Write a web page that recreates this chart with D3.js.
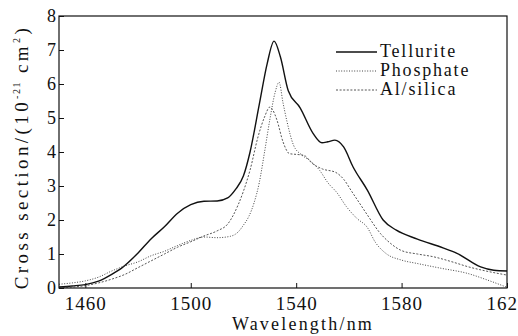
<html>
<head>
  <meta charset="utf-8">
  <title>Cross section</title>
  <style>
    body { margin: 0; background: #fff; }
    svg text { font-family: "Times New Roman", Tinos, "Liberation Serif", "Nimbus Roman", "DejaVu Serif", serif; fill: #111; }
  </style>
  <script src="https://d3js.org/d3.v7.min.js"></script>
</head>
<body>
  <div id="chart"></div>
  <script>
    // Data (wavelength nm, cross section 1e-21 cm^2)
    const telluriteWl = [1450, 1455, 1460, 1465, 1470, 1474, 1480, 1485, 1490, 1495, 1500, 1505, 1510, 1514, 1517, 1520, 1522.5, 1526, 1529, 1531.6, 1534, 1537, 1541.5, 1546.4, 1549.8, 1552, 1554.7, 1558, 1561.6, 1567, 1573, 1578, 1586, 1595.7, 1601, 1610, 1615, 1620];
    const telluriteCs = [0.03, 0.06, 0.1, 0.2, 0.4, 0.6, 1.03, 1.45, 1.8, 2.2, 2.45, 2.55, 2.56, 2.65, 2.9, 3.3, 4.0, 5.4, 6.6, 7.26, 6.8, 5.8, 5.3, 4.55, 4.27, 4.3, 4.35, 4.15, 3.56, 2.88, 2.0, 1.7, 1.44, 1.18, 1.02, 0.62, 0.52, 0.5];

    const phosphateWl = [1450, 1455, 1460, 1465, 1470, 1475, 1480, 1485, 1490, 1495, 1500, 1505, 1510, 1515, 1518, 1520, 1522, 1524, 1526, 1528, 1530, 1532, 1533.5, 1535, 1536.5, 1539, 1542, 1545, 1549, 1552, 1555.5, 1559, 1563, 1567, 1570, 1574, 1580, 1586, 1595, 1605, 1612, 1620];
    const phosphateCs = [0.11, 0.15, 0.21, 0.32, 0.5, 0.65, 0.77, 0.95, 1.08, 1.25, 1.4, 1.5, 1.48, 1.52, 1.65, 1.85, 2.1, 2.5, 3.1, 4.0, 4.95, 5.75, 6.05, 5.45, 4.9, 4.2, 3.92, 3.76, 3.45, 3.1, 2.8, 2.4, 2.05, 1.78, 1.35, 1.02, 0.82, 0.72, 0.58, 0.43, 0.25, 0.02];

    const silicaWl = [1450, 1455, 1460, 1465, 1470, 1475, 1480, 1485, 1490, 1495, 1500, 1505, 1510, 1514, 1518, 1520, 1522.5, 1525.5, 1528, 1530, 1531, 1532.7, 1535, 1537.5, 1540, 1543, 1546, 1550, 1555, 1558, 1561, 1564, 1567, 1572, 1576, 1580, 1586, 1592, 1600, 1605, 1612, 1620];
    const silicaCs = [0.01, 0.03, 0.07, 0.15, 0.26, 0.4, 0.6, 0.8, 1.0, 1.2, 1.36, 1.53, 1.68, 1.88, 2.45, 2.85, 3.47, 4.44, 5.03, 5.32, 5.25, 4.94, 4.3, 3.95, 3.93, 3.9, 3.67, 3.5, 3.4, 3.2, 2.85, 2.5, 2.15, 1.6, 1.3, 1.1, 1.0, 0.92, 0.75, 0.63, 0.5, 0.38];

    const seriesNames = ["Tellurite", "Phosphate", "Al/silica"];
    const xTicks = [1460, 1500, 1540, 1580, 1620];
    const yTicks = [0, 1, 2, 3, 4, 5, 6, 7, 8];

    const W = 518, H = 336;
    const margin = { top: 16, right: 11, bottom: 48, left: 59 };
    const width = W - margin.left - margin.right;
    const height = H - margin.top - margin.bottom;

    const x = d3.scaleLinear().domain([1450, 1620]).range([0, width]);
    const y = d3.scaleLinear().domain([0, 8]).range([height, 0]);

    const svg = d3.select("#chart").append("svg")
      .attr("width", W).attr("height", H);
    const g = svg.append("g")
      .attr("transform", `translate(${margin.left},${margin.top})`);

    // series
    const series = [
      { name: seriesNames[0], wl: telluriteWl, cs: telluriteCs, dash: null, color: "#111", w: 1.4 },
      { name: seriesNames[1], wl: phosphateWl, cs: phosphateCs, dash: "1,1.6", color: "#444", w: 1 },
      { name: seriesNames[2], wl: silicaWl, cs: silicaCs, dash: "2,1.6", color: "#555", w: 1 }
    ];

    const line = d3.line()
      .x(d => x(d[0]))
      .y(d => y(d[1]))
      .curve(d3.curveMonotoneX);

    series.forEach(s => {
      g.append("path")
        .datum(s.wl.map((w, i) => [w, s.cs[i]]))
        .attr("fill", "none")
        .attr("stroke", s.color)
        .attr("stroke-width", s.w)
        .attr("stroke-dasharray", s.dash)
        .attr("d", line);
    });

    // frame
    g.append("rect")
      .attr("width", width).attr("height", height)
      .attr("fill", "none").attr("stroke", "#111").attr("stroke-width", 1.2);

    // x axis: inward ticks
    const xAxis = g.append("g").attr("transform", `translate(0,${height})`);
    xAxis.call(d3.axisBottom(x).tickValues(d3.range(1450, 1621, 10)).tickSize(-3).tickFormat(""));
    xAxis.call(d3.axisBottom(x).tickValues(xTicks).tickSize(-5).tickPadding(9).tickFormat(d3.format("d")));
    xAxis.selectAll(".domain").remove();
    xAxis.selectAll("text").attr("font-size", 19).attr("letter-spacing", 1);

    const yAxis = g.append("g");
    yAxis.call(d3.axisLeft(y).tickValues(d3.range(0, 8.01, 0.5)).tickSize(-3).tickFormat(""));
    yAxis.call(d3.axisLeft(y).tickValues(yTicks).tickSize(-5).tickPadding(3).tickFormat(d3.format("d")));
    yAxis.selectAll(".domain").remove();
    yAxis.selectAll("text").attr("font-size", 18);
    g.selectAll(".tick line").attr("stroke", "#111");

    // axis titles
    svg.append("text")
      .attr("x", 303).attr("y", 330)
      .attr("text-anchor", "middle")
      .attr("font-size", 18).attr("letter-spacing", 2.2)
      .text("Wavelength/nm");

    const yt = svg.append("text")
      .attr("transform", "translate(28,157) rotate(-90)")
      .attr("text-anchor", "middle")
      .attr("font-size", 19).attr("letter-spacing", 3.4);
    yt.append("tspan").text("Cross section/(10");
    yt.append("tspan").attr("dy", -8).attr("font-size", 10).attr("letter-spacing", 1.5).text("-21");
    yt.append("tspan").attr("dy", 8).text(" cm");
    yt.append("tspan").attr("dy", -8).attr("font-size", 10).text("2");
    yt.append("tspan").attr("dy", 8).text(")");

    // legend
    const legend = svg.append("g");
    series.forEach((s, i) => {
      const by = 57 + i * 19;
      legend.append("line")
        .attr("x1", 336).attr("x2", 377)
        .attr("y1", by - 5).attr("y2", by - 5)
        .attr("stroke", s.color).attr("stroke-width", s.w)
        .attr("stroke-dasharray", s.dash);
      legend.append("text")
        .attr("x", 380).attr("y", by)
        .attr("font-size", 18).attr("letter-spacing", 1.8)
        .text(s.name);
    });
  </script>
</body>
</html>
